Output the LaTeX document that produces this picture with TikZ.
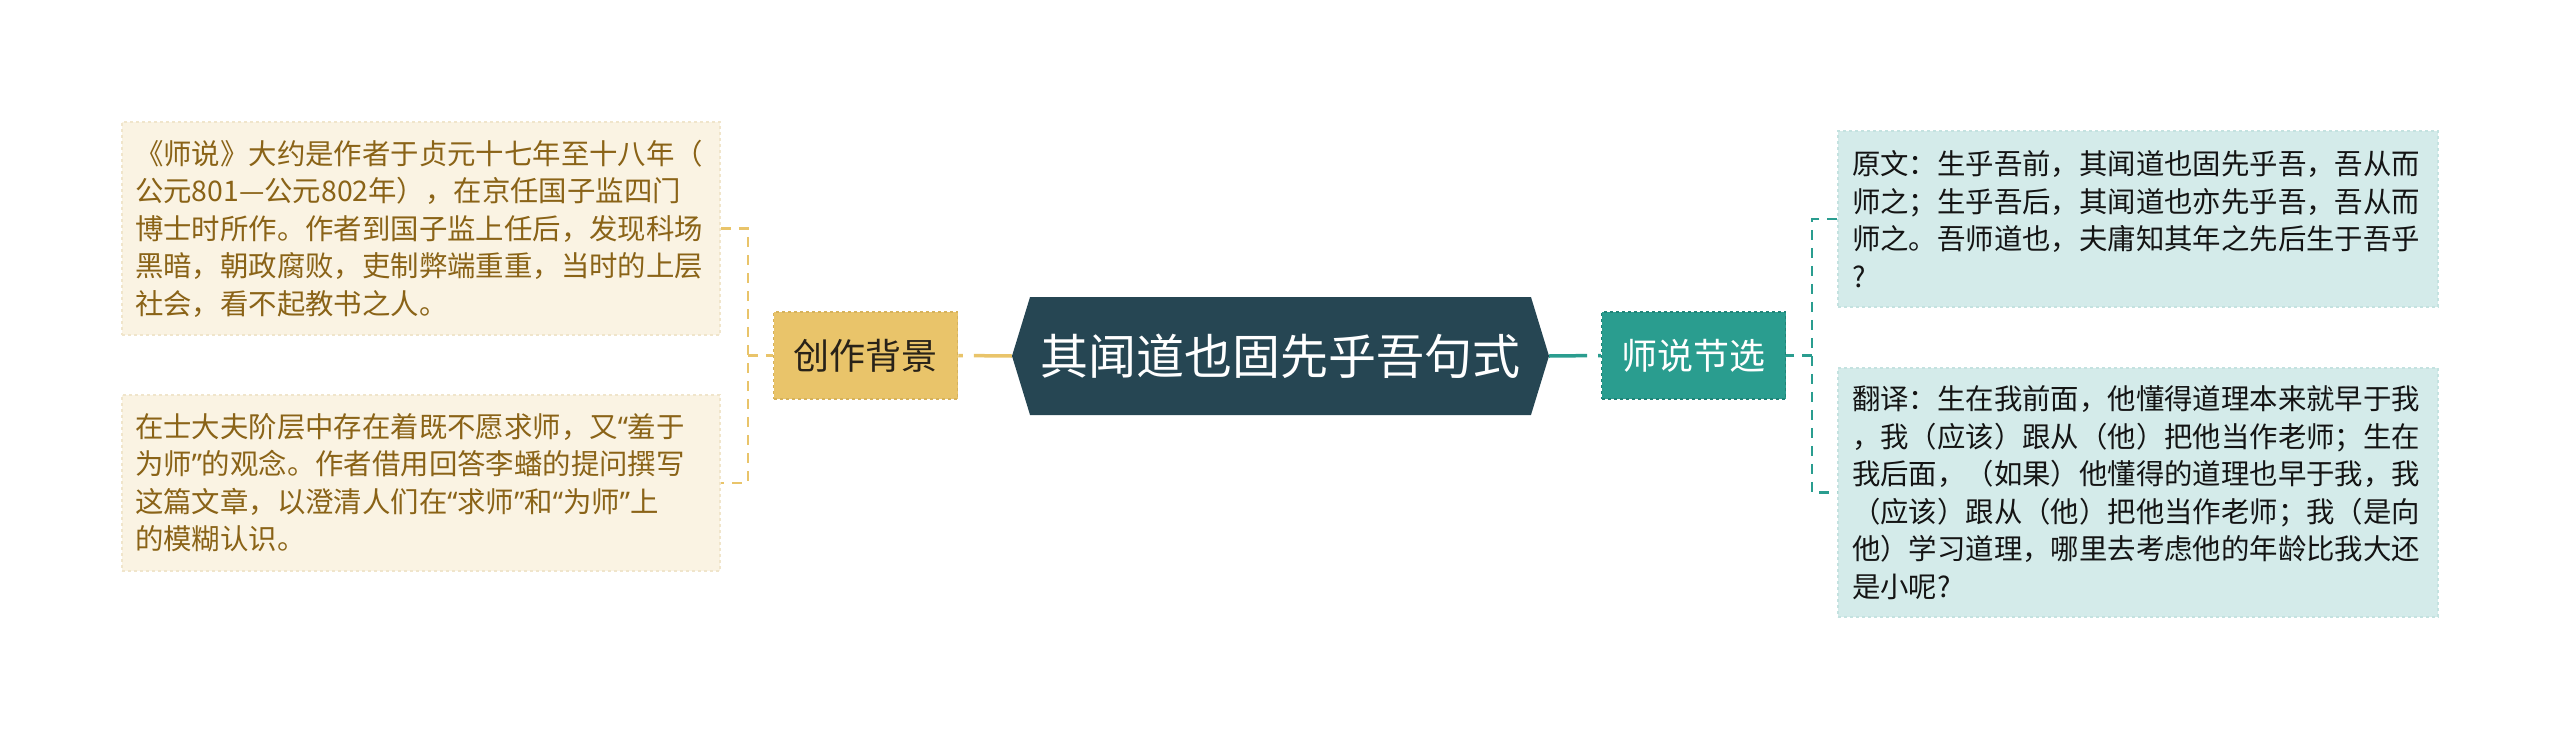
\documentclass[tikz,border=0pt]{standalone}
\usepackage{fontspec}
\setmainfont{Noto Sans CJK SC}
\newfontfamily\qfont{Noto Sans}
\newcommand\qopen{{\qfont “}}
\newcommand\qclose{{\qfont ”}}
\usetikzlibrary{shapes.symbols}

\begin{document}
\begin{tikzpicture}[x=1pt,y=1pt,yscale=-1,xscale=1,
  leafgold/.style={draw={rgb,255:red,240;green,229;blue,203},dashed,line width=1.5pt,
    fill={rgb,255:red,250;green,243;blue,227},text={rgb,255:red,138;green,99;blue,23},
    font=\fontsize{28.4}{37.5}\selectfont,text width=572pt,align=left,inner sep=0pt,
    minimum width=598pt},
  leafteal/.style={draw={rgb,255:red,196;green,226;blue,224},dashed,line width=1.5pt,
    fill={rgb,255:red,212;green,235;blue,234},text={rgb,255:red,20;green,20;blue,20},
    font=\fontsize{28.4}{37.5}\selectfont,text width=572pt,align=left,inner sep=0pt,
    minimum width=600pt},
  branchbox/.style={dashed,line width=1.5pt,inner sep=0pt,minimum width=184pt,minimum height=87pt,
    font=\fontsize{36}{44}\selectfont},
  golink/.style={draw={rgb,255:red,233;green,196;blue,106},line width=3.5pt},
  tllink/.style={draw={rgb,255:red,42;green,157;blue,143},line width=3.5pt}]
\useasboundingbox (0,0) rectangle (2560,739);

% Center Node
\node [signal,signal to=west and east,signal pointer angle=146,inner sep=0pt,
  fill={rgb,255:red,38;green,70;blue,83},text=white,font=\fontsize{48}{58}\selectfont,
  minimum width=537pt,minimum height=118pt] (ttl) at (1280.5,356) {其闻道也固先乎吾句式};

% Branch Nodes
\node [branchbox,draw={rgb,255:red,214;green,178;blue,92},fill={rgb,255:red,233;green,196;blue,106},
  text={rgb,255:red,40;green,34;blue,24}] (bgk) at (865.5,355.5) {创作背景};
\node [branchbox,draw={rgb,255:red,32;green,132;blue,120},fill={rgb,255:red,42;green,157;blue,143},
  text=white] (sel) at (1693.5,355.5) {师说节选};

% Text Node
\node [leafgold,minimum height=213pt] (bg1) at (421,228.5) {《师说》大约是作者于贞元十七年至十八年（\\
公元801—公元802年），在京任国子监四门\\
博士时所作。作者到国子监上任后，发现科场\\
黑暗，朝政腐败，吏制弊端重重，当时的上层\\
社会，看不起教书之人。};
% Text Node
\node [leafgold,minimum height=176pt] (bg2) at (421,483) {在士大夫阶层中存在着既不愿求师，又\qopen 羞于\\
为师\qclose 的观念。作者借用回答李蟠的提问撰写\\
这篇文章，以澄清人们在\qopen 求师\qclose 和\qopen 为师\qclose 上\\
的模糊认识。};
% Text Node
\node [leafteal,minimum height=176pt] (yw) at (2138,219) {原文：生乎吾前，其闻道也固先乎吾，吾从而\\
师之；生乎吾后，其闻道也亦先乎吾，吾从而\\
师之。吾师道也，夫庸知其年之先后生于吾乎\\
?};
% Text Node
\node [leafteal,minimum height=249pt] (fy) at (2138,492.5) {翻译：生在我前面，他懂得道理本来就早于我\\
，我（应该）跟从（他）把他当作老师；生在\\
我后面，（如果）他懂得的道理也早于我，我\\
（应该）跟从（他）把他当作老师；我（是向\\
他）学习道理，哪里去考虑他的年龄比我大还\\
是小呢?};

\coordinate (lbr) at (748,355.5);
\coordinate (rbr) at (1812,355.5);

%Straight Lines
\draw [golink,dash pattern=on 38pt off 11pt] (ttl.west) -- (bgk.east);
\draw [tllink,dash pattern=on 38pt off 11pt] (ttl.east) -- (sel.west);
%Brackets
\draw [golink,line width=2.5pt,dash pattern=on 10pt off 8pt] (bg1.east) -| (lbr) |- (bg2.east);
\draw [golink,line width=2.5pt,dash pattern=on 10pt off 8pt] (lbr) -- (bgk.west);
\draw [tllink,line width=2.5pt,dash pattern=on 10pt off 8pt] (yw.west) -| (rbr) |- (fy.west);
\draw [tllink,line width=2.5pt,dash pattern=on 10pt off 8pt] (rbr) -- (sel.east);

\end{tikzpicture}
\end{document}
